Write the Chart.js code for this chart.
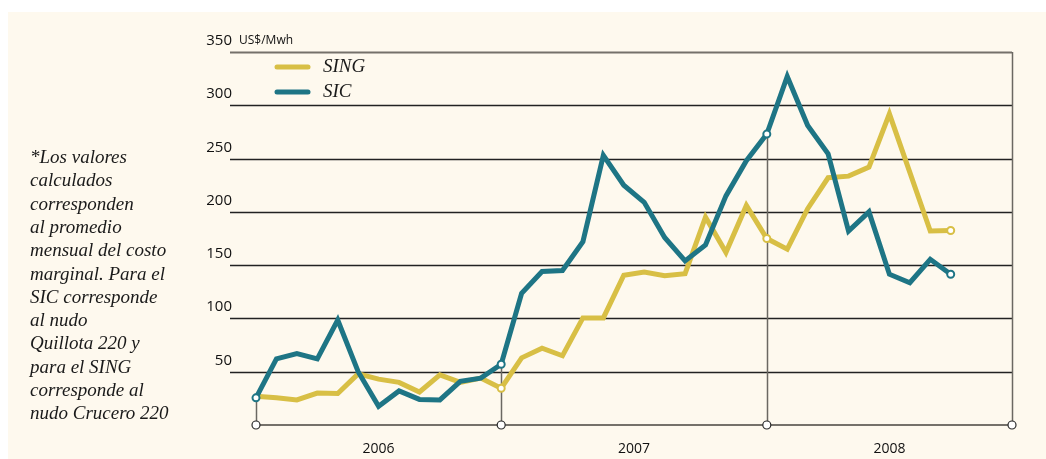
<!DOCTYPE html>
<html lang="es">
<head>
<meta charset="utf-8">
<title>Costo marginal SING / SIC</title>
<script src="https://cdn.jsdelivr.net/npm/chart.js@4.4.1/dist/chart.umd.min.js"></script>
<style>
  html, body { margin: 0; padding: 0; background: #ffffff; }
  #wrap { position: relative; width: 1046px; height: 459px; }
</style>
</head>
<body>
<div id="wrap"><canvas id="costChart" width="1046" height="459"></canvas></div>
<script>
// monthly average marginal cost, US$/Mwh
const sing = [27, 25.5, 23.5, 30, 29.5, 48, 43, 40, 31, 47, 40, 44, 34.5,
  63, 72, 65, 100.5, 100.5, 140.5, 143.5, 140, 142, 195, 162, 206, 175,
  165, 203, 232, 233.5, 242, 292, 237, 182, 182.5];
const sic = [25.5, 62, 67, 62, 98.5, 50, 17.5, 32, 24, 23.5, 41, 44, 57,
  123.5, 144, 145, 172, 253, 225, 209, 176, 154, 169, 215, 248, 273,
  327, 281, 254.5, 182, 200, 141.5, 133.5, 155.5, 141.5];

const periods = Array.from({ length: 38 }, (_, i) => String(i));
const years = ["2006", "2007", "2008"];
const yearBounds = [0, 12, 25, 37];
const yTicks = [50, 100, 150, 200, 250, 300, 350];

const sicMarks = [0, 12, 25, 34];
const singMarks = [12, 25, 34];

const noteLines = [
  "*Los valores",
  "calculados",
  "corresponden",
  "al promedio",
  "mensual del costo",
  "marginal. Para el",
  "SIC corresponde",
  "al nudo",
  "Quillota 220 y",
  "para el SING",
  "corresponde al",
  "nudo Crucero 220",
];

const SING_COLOR = "#d8bf45";
const SIC_COLOR = "#1e7585";
const CREAM = "#fef9ee";
const SANS = "'Open Sans', 'Liberation Sans', sans-serif";
const SERIF = "'Liberation Serif', 'DejaVu Serif', serif";

function markRadius(values, marks) {
  return values.map((_, i) => (marks.includes(i) ? 3.5 : 0));
}

const decor = {
  id: "decor",
  beforeDraw(chart) {
    const ctx = chart.ctx;
    ctx.save();
    ctx.fillStyle = "#ffffff";
    ctx.fillRect(0, 0, chart.width, chart.height);
    ctx.fillStyle = CREAM;
    ctx.fillRect(8, 12, chart.width - 8, chart.height - 12);
    ctx.restore();
  },
  beforeDatasetsDraw(chart) {
    const ctx = chart.ctx;
    const x = chart.scales.x;
    const y = chart.scales.y;
    const right = x.getPixelForValue(yearBounds[3]);
    const base = y.getPixelForValue(0);
    ctx.save();

    // horizontal rules + y labels
    yTicks.forEach((v) => {
      const py = Math.round(y.getPixelForValue(v)) + 0.5;
      ctx.beginPath();
      ctx.moveTo(230, py);
      ctx.lineTo(right, py);
      if (v === 350) {
        ctx.strokeStyle = "#75716a";
        ctx.lineWidth = 2;
      } else {
        ctx.strokeStyle = "#222222";
        ctx.lineWidth = 1.4;
      }
      ctx.stroke();

      ctx.fillStyle = "#111111";
      ctx.font = "15px " + SANS;
      ctx.textAlign = "right";
      ctx.textBaseline = "alphabetic";
      ctx.fillText(String(v), 232, py - 8);
    });

    ctx.font = "12px " + SANS;
    ctx.textAlign = "left";
    ctx.fillText("US$/Mwh", 239, y.getPixelForValue(350) - 8);

    // vertical year dividers
    ctx.strokeStyle = "#6b6862";
    ctx.lineWidth = 1.5;
    yearBounds.forEach((idx) => {
      const px = Math.round(x.getPixelForValue(idx)) + 0.5;
      const top = idx < sic.length ? y.getPixelForValue(sic[idx]) : y.getPixelForValue(350);
      ctx.beginPath();
      ctx.moveTo(px, top);
      ctx.lineTo(px, base);
      ctx.stroke();
    });

    // base axis
    ctx.strokeStyle = "#75716a";
    ctx.lineWidth = 2;
    ctx.beginPath();
    ctx.moveTo(x.getPixelForValue(0), base);
    ctx.lineTo(right, base);
    ctx.stroke();
    ctx.restore();
  },
  afterDatasetsDraw(chart) {
    const ctx = chart.ctx;
    const x = chart.scales.x;
    const y = chart.scales.y;
    const base = y.getPixelForValue(0);
    ctx.save();

    yearBounds.forEach((idx) => {
      ctx.beginPath();
      ctx.arc(x.getPixelForValue(idx), base, 4, 0, Math.PI * 2);
      ctx.fillStyle = "#ffffff";
      ctx.fill();
      ctx.strokeStyle = "#2a2a2a";
      ctx.lineWidth = 1.2;
      ctx.stroke();
    });

    ctx.fillStyle = "#111111";
    ctx.font = "14px " + SANS;
    ctx.textAlign = "center";
    ctx.textBaseline = "middle";
    years.forEach((label, i) => {
      const mid = (x.getPixelForValue(yearBounds[i]) + x.getPixelForValue(yearBounds[i + 1])) / 2;
      ctx.fillText(label, mid, 449);
    });

    // legend
    const legend = [["SING", SING_COLOR, 67], ["SIC", SIC_COLOR, 92]];
    legend.forEach(([label, color, ly]) => {
      ctx.strokeStyle = color;
      ctx.lineWidth = 5;
      ctx.lineCap = "round";
      ctx.beginPath();
      ctx.moveTo(277, ly);
      ctx.lineTo(308, ly);
      ctx.stroke();
      ctx.fillStyle = "#1a1a1a";
      ctx.font = "italic 19px " + SERIF;
      ctx.textAlign = "left";
      ctx.textBaseline = "middle";
      ctx.fillText(label, 323, ly);
    });

    // side note
    ctx.font = "italic 19px " + SERIF;
    ctx.fillStyle = "#1a1a1a";
    ctx.textBaseline = "middle";
    noteLines.forEach((line, i) => {
      ctx.fillText(line, 30, 158 + i * 23.3);
    });
    ctx.restore();
  },
};

new Chart(document.getElementById("costChart"), {
  type: "line",
  data: {
    labels: periods,
    datasets: [
      {
        label: "SING",
        data: sing,
        borderColor: SING_COLOR,
        borderWidth: 5,
        borderJoinStyle: "miter",
        pointRadius: markRadius(sing, singMarks),
        pointBackgroundColor: "#ffffff",
        pointBorderColor: SING_COLOR,
        pointBorderWidth: 2,
        tension: 0,
        order: 1,
      },
      {
        label: "SIC",
        data: sic,
        borderColor: SIC_COLOR,
        borderWidth: 5,
        borderJoinStyle: "miter",
        pointRadius: markRadius(sic, sicMarks),
        pointBackgroundColor: "#ffffff",
        pointBorderColor: SIC_COLOR,
        pointBorderWidth: 2,
        tension: 0,
        order: 0,
      },
    ],
  },
  options: {
    responsive: false,
    animation: false,
    clip: false,
    layout: { padding: { left: 256, right: 34, top: 52, bottom: 34 } },
    scales: {
      x: { type: "category", offset: false, display: false },
      y: { min: 0, max: 350, display: false },
    },
    plugins: { legend: { display: false }, tooltip: { enabled: false } },
    events: [],
  },
  plugins: [decor],
});
</script>
</body>
</html>
